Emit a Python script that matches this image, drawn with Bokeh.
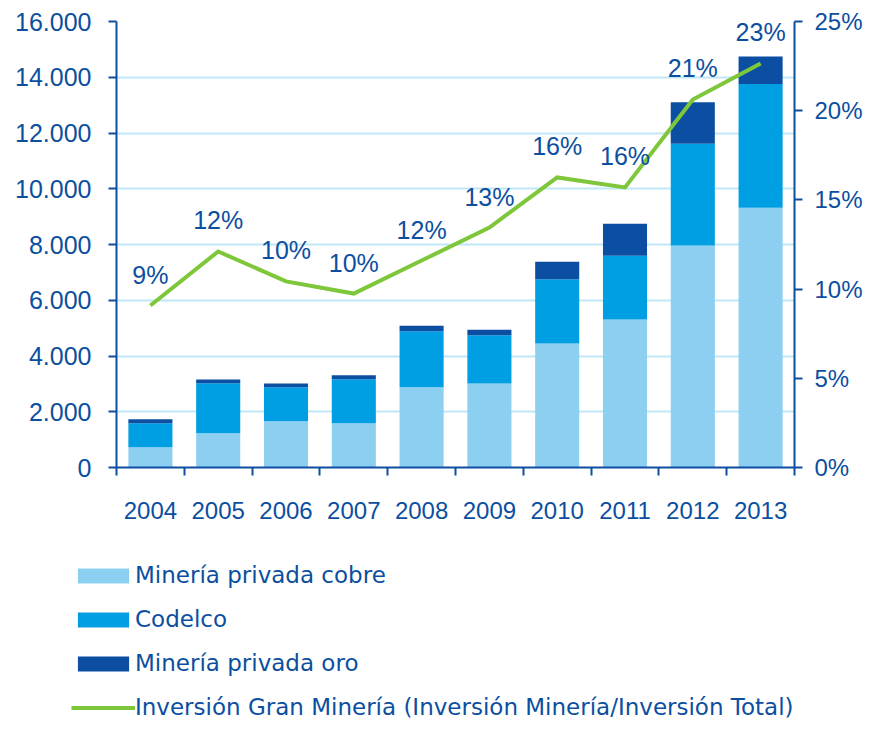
from bokeh.plotting import figure
from bokeh.layouts import column
from bokeh.models import (Range1d, LinearAxis, FixedTicker, Legend, LegendItem,
                          ColumnDataSource)
from bokeh.core.properties import value
from bokeh.embed import file_html
from bokeh.resources import INLINE

# ---- data ----
years = ["2004", "2005", "2006", "2007", "2008", "2009", "2010", "2011", "2012", "2013"]
cobre = [730, 1230, 1660, 1590, 2880, 3010, 4450, 5310, 7960, 9320]
codelco = [860, 1790, 1220, 1580, 2010, 1730, 2300, 2290, 3650, 4440]
oro = [145, 135, 135, 135, 195, 205, 635, 1140, 1490, 980]
pct = [9.08, 12.11, 10.43, 9.75, 11.60, 13.45, 16.26, 15.70, 20.63, 22.65]
pct_labels = ["9%", "12%", "10%", "10%", "12%", "13%", "16%", "16%", "21%", "23%"]
left_ticks = [0, 2000, 4000, 6000, 8000, 10000, 12000, 14000, 16000]
right_ticks = [0, 5, 10, 15, 20, 25]
series_names = ["Minería privada cobre", "Codelco", "Minería privada oro",
                "Inversión Gran Minería (Inversión Minería/Inversión Total)"]

BLUE = "#0c4fa0"
GRID = "#bfe7f8"
COLORS = ["#8ccff0", "#009ee2", "#0b4ea2"]
GREEN = "#7ec63a"
FONT = "Liberation Sans"
W = 866

x = [i + 0.5 for i in range(len(years))]
src = ColumnDataSource(dict(x=x, cobre=cobre, codelco=codelco, oro=oro,
                            pct=pct, lab=pct_labels))

p = figure(width=W, height=540,
           x_range=Range1d(0, len(years)), y_range=Range1d(0, left_ticks[-1]),
           output_backend="svg", toolbar_location=None,
           min_border_left=116, min_border_right=72, min_border_top=21,
           min_border_bottom=73)
p.extra_y_ranges = {"pct": Range1d(0, right_ticks[-1])}
p.outline_line_color = None
p.background_fill_color = "white"
p.border_fill_color = "white"

bars = p.vbar_stack(["cobre", "codelco", "oro"], x="x", width=0.65, source=src,
                    fill_color=COLORS, line_color=None)
ln = p.line("x", "pct", source=src, y_range_name="pct", line_width=4,
            line_color=GREEN, line_join="miter")
p.text("x", "pct", text="lab", source=src, y_range_name="pct", y_offset=-31,
       text_align="center", text_baseline="middle", text_font=value(FONT),
       text_font_size="25px", text_color=BLUE)

# grid
p.xgrid.visible = False
p.ygrid.grid_line_color = GRID
p.ygrid.grid_line_width = 2
p.ygrid.ticker = FixedTicker(ticks=left_ticks)

def style_axis(ax):
    ax.axis_line_color = BLUE
    ax.axis_line_width = 2
    ax.major_tick_line_color = BLUE
    ax.major_tick_line_width = 2
    ax.major_tick_out = 8
    ax.major_tick_in = 0
    ax.minor_tick_line_color = None
    ax.major_label_text_font = FONT
    ax.major_label_text_color = BLUE

# left axis
ya = p.yaxis[0]
style_axis(ya)
ya.ticker = FixedTicker(ticks=left_ticks)
ya.major_label_overrides = {t: f"{t:,}".replace(",", ".") for t in left_ticks}
ya.major_label_text_font_size = "25px"
ya.major_label_standoff = 17

# right axis
ra = LinearAxis(y_range_name="pct", ticker=FixedTicker(ticks=right_ticks))
style_axis(ra)
ra.major_label_overrides = {t: f"{t}%" for t in right_ticks}
ra.major_label_text_font_size = "24px"
ra.major_label_standoff = 12
p.add_layout(ra, "right")

# bottom axis: labels at centres, ticks at category boundaries
xa = p.xaxis[0]
style_axis(xa)
xa.ticker = FixedTicker(ticks=x, minor_ticks=list(range(len(years) + 1)))
xa.major_label_overrides = {xi: yr for xi, yr in zip(x, years)}
xa.major_tick_out = 0
xa.minor_tick_line_color = BLUE
xa.minor_tick_line_width = 2
xa.minor_tick_out = 8
xa.minor_tick_in = 0
xa.major_label_text_font_size = "24px"
xa.major_label_standoff = 26

# ---- legend panel below the chart ----
q = figure(width=W, height=181, x_range=Range1d(0, 1), y_range=Range1d(0, 1),
           output_backend="svg", toolbar_location=None,
           min_border_left=0, min_border_right=0, min_border_top=0,
           min_border_bottom=0, x_axis_location=None, y_axis_location=None)
q.outline_line_color = None
q.xgrid.visible = False
q.ygrid.visible = False
q.border_fill_color = "white"
for fig in (p, q):
    try:
        fig.frame_align = False
    except AttributeError:
        pass
# legend-only renderers (a single point kept outside the visible range)
r_sw = [q.vbar(x=[-5], top=[-5], width=0.5, fill_color=c, line_color=None) for c in COLORS]
r_ln = q.line(x=[-5, -4], y=[-5, -5], line_width=4, line_color=GREEN)

legend = Legend(
    items=[LegendItem(label=series_names[0], renderers=[r_sw[0]]),
           LegendItem(label=series_names[1], renderers=[r_sw[1]]),
           LegendItem(label=series_names[2], renderers=[r_sw[2]]),
           LegendItem(label=series_names[3], renderers=[r_ln])],
    location=(71, 1), orientation="vertical",
    glyph_width=64, glyph_height=19, label_standoff=-2,
    label_text_font="DejaVu Sans", label_text_font_size="23px",
    label_text_color=BLUE, label_height=24, spacing=18,
    padding=0, margin=0, border_line_color=None, background_fill_alpha=0)
q.add_layout(legend, "center")

open("out.html", "w").write(file_html(column(p, q, spacing=0), INLINE))
